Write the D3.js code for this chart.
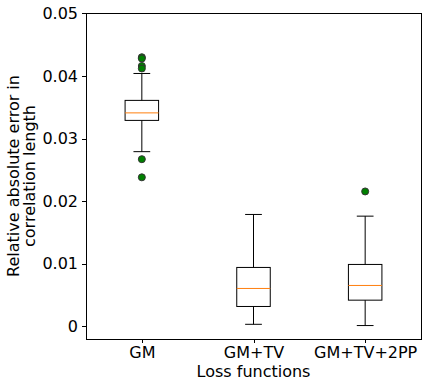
<!DOCTYPE html>
<html lang="en">
<head>
    <meta charset="UTF-8">
    <title>Loss functions boxplot</title>
    <script src="https://d3js.org/d3.v7.min.js"></script>
    <style>
        body { margin: 0; background: #fff; }
        svg text { font-family: "DejaVu Sans", sans-serif; fill: #000; }
        .axis path, .axis line { stroke: #000; shape-rendering: crispEdges; }
    </style>
</head>
<body>
    <svg id="chart" width="428" height="387"></svg>

    <script>
        // Data
        const categories = ["GM", "GM+TV", "GM+TV+2PP"];
        const whiskerLow = [0.0279, 0.0003, 0.0001];
        const q1 = [0.0329, 0.00315, 0.00416];
        const medians = [0.0341, 0.00603, 0.00651];
        const q3 = [0.0361, 0.00939, 0.00987];
        const whiskerHigh = [0.0404, 0.01786, 0.01759];
        const outliers = [
            [0.0430, 0.0428, 0.0416, 0.0412, 0.0267, 0.0238],
            [],
            [0.02154]
        ];
        const yTicks = [0, 0.01, 0.02, 0.03, 0.04, 0.05];
        const yTickLabels = ["0", "0.01", "0.02", "0.03", "0.04", "0.05"];

        const svg = d3.select("#chart");
        const margin = { top: 13, right: 7, bottom: 48, left: 86 };
        const width = +svg.attr("width") - margin.left - margin.right;
        const height = +svg.attr("height") - margin.top - margin.bottom;

        const chart = svg.append("g").attr("transform", `translate(${margin.left},${margin.top})`);

        // positions 1..3 with limits 0.5..3.5 like matplotlib
        const x = d3.scaleLinear().domain([0.5, 3.5]).range([0, width]);
        const y = d3.scaleLinear().domain([-0.00205, 0.05007]).range([height, 0]);
        const boxW = x(1.3) - x(1);
        const capW = boxW / 2;

        // frame
        chart.append("rect")
            .attr("width", width).attr("height", height)
            .attr("fill", "none").attr("stroke", "#000").attr("stroke-width", 1)
            .attr("shape-rendering", "crispEdges");

        // axes
        chart.append("g")
            .attr("class", "y axis")
            .call(d3.axisLeft(y).tickValues(yTicks).tickFormat((d, i) => yTickLabels[i]).tickSize(4).tickPadding(4))
            .call(g => g.select(".domain").remove())
            .call(g => g.selectAll("text").attr("font-size", 16));

        chart.append("g")
            .attr("class", "x axis")
            .attr("transform", `translate(0,${height})`)
            .call(d3.axisBottom(x).tickValues([1, 2, 3]).tickFormat((d, i) => categories[i]).tickSize(4).tickPadding(4))
            .call(g => g.select(".domain").remove())
            .call(g => g.selectAll("text").attr("font-size", 16));

        // boxes
        const boxes = chart.selectAll(".box")
            .data(categories)
            .enter().append("g")
            .attr("class", "box");

        boxes.append("line")
            .attr("x1", (d, i) => x(i + 1)).attr("x2", (d, i) => x(i + 1))
            .attr("y1", (d, i) => y(q3[i])).attr("y2", (d, i) => y(whiskerHigh[i]))
            .attr("stroke", "#000");
        boxes.append("line")
            .attr("x1", (d, i) => x(i + 1)).attr("x2", (d, i) => x(i + 1))
            .attr("y1", (d, i) => y(q1[i])).attr("y2", (d, i) => y(whiskerLow[i]))
            .attr("stroke", "#000");
        boxes.append("line")
            .attr("x1", (d, i) => x(i + 1) - capW / 2).attr("x2", (d, i) => x(i + 1) + capW / 2)
            .attr("y1", (d, i) => y(whiskerHigh[i])).attr("y2", (d, i) => y(whiskerHigh[i]))
            .attr("stroke", "#000");
        boxes.append("line")
            .attr("x1", (d, i) => x(i + 1) - capW / 2).attr("x2", (d, i) => x(i + 1) + capW / 2)
            .attr("y1", (d, i) => y(whiskerLow[i])).attr("y2", (d, i) => y(whiskerLow[i]))
            .attr("stroke", "#000");
        boxes.append("rect")
            .attr("x", (d, i) => x(i + 1) - boxW / 2)
            .attr("width", boxW)
            .attr("y", (d, i) => y(q3[i]))
            .attr("height", (d, i) => y(q1[i]) - y(q3[i]))
            .attr("fill", "none").attr("stroke", "#000");
        boxes.append("line")
            .attr("x1", (d, i) => x(i + 1) - boxW / 2).attr("x2", (d, i) => x(i + 1) + boxW / 2)
            .attr("y1", (d, i) => y(medians[i])).attr("y2", (d, i) => y(medians[i]))
            .attr("stroke", "#ff7f0e");

        // fliers
        boxes.each(function (d, i) {
            d3.select(this).selectAll("circle")
                .data(outliers[i])
                .enter().append("circle")
                .attr("cx", x(i + 1))
                .attr("cy", v => y(v))
                .attr("r", 3.5)
                .attr("fill", "green")
                .attr("stroke", "#333")
                .attr("stroke-width", 1);
        });

        // labels
        svg.append("text")
            .attr("x", margin.left + width / 2)
            .attr("y", 377)
            .attr("text-anchor", "middle")
            .attr("font-size", 16)
            .text("Loss functions");

        const yl = svg.append("text")
            .attr("transform", `translate(0,${margin.top + height / 2}) rotate(-90)`)
            .attr("text-anchor", "middle")
            .attr("font-size", 16);
        yl.append("tspan").attr("x", 0).attr("y", 19).text("Relative absolute error in");
        yl.append("tspan").attr("x", 0).attr("y", 35).text("correlation length");
    </script>
</body>
</html>
